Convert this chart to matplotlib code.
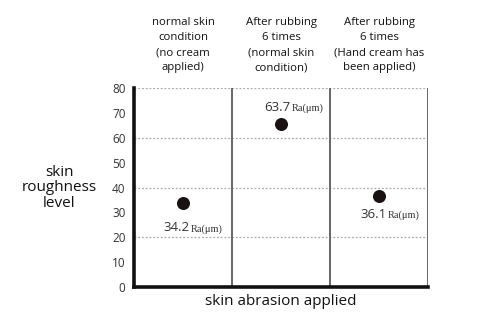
import matplotlib
matplotlib.use("Agg")
import matplotlib.pyplot as plt

plt.rcParams['font.family'] = ['Open Sans', 'DejaVu Sans']

# columns (conditions)
headers = [
    "normal skin\ncondition\n(no cream\napplied)",
    "After rubbing\n6 times\n(normal skin\ncondition)",
    "After rubbing\n6 times\n(Hand cream has\nbeen applied)",
]
# dot heights as drawn, and the values printed next to them
dot_y = [33.8, 65.6, 36.5]
labels = ["34.2", "63.7", "36.1"]
yticks = [0, 10, 20, 30, 40, 50, 60, 70, 80]

fig = plt.figure(figsize=(4.8, 3.24), dpi=100)
ax = fig.add_axes([0.279, 0.114, 0.613, 0.614])

x = list(range(len(headers)))
ax.scatter(x, dot_y, s=70, color='#1a1212', zorder=5)

ax.set_xlim(-0.5, 2.5)
ax.set_ylim(0, 80)

# dotted horizontal grid
for g in [20, 40, 60, 80]:
    ax.axhline(g, color='#aaaaaa', lw=0.9, ls=(0, (1.5, 1.5)), zorder=1)
# column dividers
for d in [0.5, 1.5, 2.5]:
    ax.axvline(d, color='#666666', lw=1.4, zorder=2)

for s in ['top', 'right']:
    ax.spines[s].set_visible(False)
ax.spines['left'].set_linewidth(2.6)
ax.spines['bottom'].set_linewidth(2.6)
ax.spines['left'].set_color('#111111')
ax.spines['bottom'].set_color('#111111')

ax.set_xticks([])
ax.set_yticks(yticks)
ax.tick_params(axis='y', length=0, labelsize=8.5, labelcolor='#333333', pad=6)

# value labels
offsets = [(0.07, -11.4), (0.1, 5.4), (0.08, -8.8)]
for xi, yi, lab, (dx, dy) in zip(x, dot_y, labels, offsets):
    ax.text(xi + dx, yi + dy, lab, ha='right', va='baseline', fontsize=9.5, color='#333333')
    ax.text(xi + dx + 0.01, yi + dy, "Ra(\u03bcm)", ha='left', va='baseline',
            fontsize=7.5, color='#333333', family=['Liberation Serif', 'DejaVu Serif'])

# column headers
for xi, h in zip(x, headers):
    ax.text(xi, 86, h, ha='center', va='bottom', fontsize=8.2, color='#111111',
            linespacing=1.5)

ax.set_ylabel("skin\nroughness\nlevel", rotation=0, fontsize=11, color='#111111',
              ha='center', va='center', labelpad=38, linespacing=1.05)
ax.set_xlabel("skin abrasion applied", fontsize=11, color='#111111', labelpad=5)

fig.savefig("out.png", dpi=100)
